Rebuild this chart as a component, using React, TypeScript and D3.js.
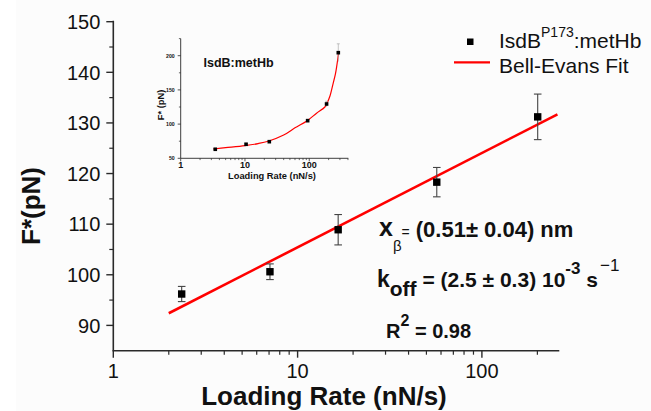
import React from "react";
import * as d3 from "d3";

// Main chart data
const mainRate = [2.35, 7.08, 16.6, 56.9, 200.8];
const mainForce = [96.2, 100.6, 108.9, 118.3, 131.2];
const mainErr = [1.5, 1.55, 3.0, 2.9, 4.5];
const fitRate = [2.0, 257];
const fitForce = [92.4, 131.7];
const yTicks = [90, 100, 110, 120, 130, 140, 150];
const xTicks = [1, 10, 100];

// Inset data
const insetRate = [3.45, 10.4, 23.9, 94.4, 186, 283];
const insetForce = [63.2, 70.5, 74.3, 105, 129.4, 204.4];
const insetErr = [1.2, 1.5, 1.5, 2, 4, 13];
const insetFitRate = [3.2, 5, 10, 16, 23, 40, 60, 93, 130, 175, 190, 210, 236, 255, 267, 287];
const insetFitForce = [63.6, 65.5, 68.5, 71.5, 75, 84, 94.5, 105, 116, 125, 131, 141, 160, 173, 184, 205];
const insetYTicks = [50, 100, 150, 200];
const insetXTicks = [1, 10, 100];

const FONT = "'Liberation Sans', Arial, sans-serif";
const AX = "#2a2a2a";

function minorLog(domainMax: number) {
  const out: number[] = [];
  for (let dec = 1; dec <= domainMax; dec *= 10) {
    for (let k = 2; k <= 9; k++) {
      const v = dec * k;
      if (v <= domainMax) out.push(v);
    }
  }
  return out;
}

export default function App() {
  const x = d3.scaleLog().domain([1, 263]).range([113.3, 559.3]);
  const y = d3.scaleLinear().domain([85, 150]).range([350.7, 21.7]);
  const ix = d3.scaleLog().domain([1, 405]).range([180.7, 348.3]);
  const iy = d3.scaleLinear().domain([50, 225]).range([158.3, 38.6]);

  const fitLine = d3
    .line<number>()
    .x((_, i) => x(fitRate[i]))
    .y((d) => y(d));
  const insetLine = d3
    .line<number>()
    .x((_, i) => ix(insetFitRate[i]))
    .y((d) => iy(d))
    .curve(d3.curveCatmullRom.alpha(0.5));

  const yMinor = d3.range(95, 150, 10);
  const xMinor = minorLog(263);
  const iyMinor = [75, 125, 175, 225];
  const ixMinor = minorLog(405);

  const x0 = x.range()[0];
  const yb = y.range()[0];
  const ix0 = ix.range()[0];
  const iyb = iy.range()[0];

  return (
    <div style={{ position: "fixed", left: 0, top: 0 }}>
      <svg width={651} height={411} style={{ display: "block", background: "#fff" }} fontFamily={FONT}>
        <rect x={16} y={0} width={635} height={411} fill="#fcfcfc" />
        {/* main axes */}
        <line x1={x0} x2={x0} y1={y.range()[1] - 1} y2={yb} stroke={AX} strokeWidth={1.6} />
        <line x1={x0 - 0.8} x2={x.range()[1]} y1={yb} y2={yb} stroke={AX} strokeWidth={1.6} />
        {yTicks.map((t) => (
          <g key={"yt" + t}>
            <line x1={x0 - 7} x2={x0} y1={y(t)} y2={y(t)} stroke={AX} strokeWidth={1.4} />
            <text x={x0 - 13} y={y(t)} dy="0.36em" textAnchor="end" fontSize={20} fill="#111">
              {t}
            </text>
          </g>
        ))}
        {yMinor.map((t) => (
          <line key={"ym" + t} x1={x0 - 4} x2={x0} y1={y(t)} y2={y(t)} stroke={AX} strokeWidth={1.2} />
        ))}
        {xTicks.map((t) => (
          <g key={"xt" + t}>
            <line x1={x(t)} x2={x(t)} y1={yb} y2={yb + 7} stroke={AX} strokeWidth={1.4} />
            <text x={x(t)} y={yb + 27.5} textAnchor="middle" fontSize={20} fill="#111">
              {t}
            </text>
          </g>
        ))}
        {xMinor.map((t) => (
          <line key={"xm" + t} x1={x(t)} x2={x(t)} y1={yb} y2={yb + 4} stroke={AX} strokeWidth={1.2} />
        ))}
        <text x={324} y={405} textAnchor="middle" fontSize={26} fontWeight="bold" fill="#111">
          Loading Rate (nN/s)
        </text>
        <text
          transform="translate(40,206) rotate(-90)"
          textAnchor="middle"
          fontSize={26}
          fontWeight="bold"
          fill="#111"
        >
          F*(pN)
        </text>

        {/* fit */}
        <path d={fitLine(fitForce) || ""} fill="none" stroke="#ff0000" strokeWidth={2.6} />

        {/* data */}
        {mainRate.map((r, i) => {
          const cx = x(r);
          const cy = y(mainForce[i]);
          const top = y(mainForce[i] + mainErr[i]);
          const bot = y(mainForce[i] - mainErr[i]);
          return (
            <g key={"p" + i}>
              <line x1={cx} x2={cx} y1={top} y2={bot} stroke="#444" strokeWidth={1.1} />
              <line x1={cx - 3.8} x2={cx + 3.8} y1={top} y2={top} stroke="#444" strokeWidth={1.1} />
              <line x1={cx - 3.8} x2={cx + 3.8} y1={bot} y2={bot} stroke="#444" strokeWidth={1.1} />
              <rect x={cx - 3.7} y={cy - 3.7} width={7.4} height={7.4} fill="#000" />
            </g>
          );
        })}

        {/* legend */}
        <rect x={467} y={38.5} width={6.5} height={6.5} fill="#000" />
        <text x={499} y={48.3} fontSize={21} fill="#111">
          IsdB
          <tspan fontSize={14} dy={-11}>P173</tspan>
          <tspan dy={11}>:metHb</tspan>
        </text>
        <line x1={454} x2={490} y1={62.3} y2={62.3} stroke="#ff0000" strokeWidth={2.2} />
        <text x={499} y={73.3} fontSize={21} fill="#111">
          Bell-Evans Fit
        </text>

        {/* annotations */}
        <text x={379} y={236} fontWeight="bold" fill="#111">
          <tspan fontSize={25}>x</tspan>
          <tspan fontSize={15} fontWeight="normal" dy={15}>β</tspan>
          <tspan fontSize={14} fontWeight="normal" dy={-14} dx={0}>=</tspan>
          <tspan fontSize={22} dx={6}>(0.51± 0.04) nm</tspan>
        </text>
        <text x={377} y={287} fontWeight="bold" fill="#111" fontSize={21}>
          <tspan fontSize={23}>k</tspan>
          <tspan dy={9}>off</tspan>
          <tspan dy={-9}> = (2.5 ± 0.3) 10</tspan>
          <tspan fontSize={17} dy={-13}>-3</tspan>
          <tspan dy={13}> s</tspan>
          <tspan fontSize={17} fontWeight="normal" dy={-16} dx={2}>−1</tspan>
        </text>
        <text x={386} y={338.3} fontWeight="bold" fill="#111" fontSize={20}>
          R<tspan fontSize={16} dy={-12}>2</tspan>
          <tspan dy={12}> = 0.98</tspan>
        </text>

        {/* inset axes */}
        <line x1={ix0} x2={ix0} y1={iy.range()[1]} y2={iyb} stroke={AX} strokeWidth={0.9} />
        <line x1={ix0} x2={ix.range()[1]} y1={iyb} y2={iyb} stroke={AX} strokeWidth={0.9} />
        {insetYTicks.map((t) => (
          <g key={"iyt" + t}>
            <line x1={ix0 - 3} x2={ix0} y1={iy(t)} y2={iy(t)} stroke={AX} strokeWidth={0.8} />
            <text x={ix0 - 6} y={iy(t)} dy="0.36em" textAnchor="end" fontSize={5.2} fontWeight="bold" fill="#111">
              {t}
            </text>
          </g>
        ))}
        {iyMinor.map((t) => (
          <line key={"iym" + t} x1={ix0 - 1.8} x2={ix0} y1={iy(t)} y2={iy(t)} stroke={AX} strokeWidth={0.7} />
        ))}
        {insetXTicks.map((t) => (
          <g key={"ixt" + t}>
            <line x1={ix(t)} x2={ix(t)} y1={iyb} y2={iyb + 3} stroke={AX} strokeWidth={0.8} />
            <text x={ix(t)} y={167.5} textAnchor="middle" fontSize={9} fontWeight="bold" fill="#111">
              {t}
            </text>
          </g>
        ))}
        {ixMinor.map((t) => (
          <line key={"ixm" + t} x1={ix(t)} x2={ix(t)} y1={iyb} y2={iyb + 1.8} stroke={AX} strokeWidth={0.7} />
        ))}
        <text x={272} y={179} textAnchor="middle" fontSize={9.3} fontWeight="bold" fill="#111">
          Loading Rate (nN/s)
        </text>
        <text
          transform="translate(164,105) rotate(-90)"
          textAnchor="middle"
          fontSize={9.3}
          fontWeight="bold"
          fill="#111"
        >
          F* (pN)
        </text>
        <text x={203.5} y={67.3} fontSize={12.5} fontWeight="bold" fill="#111">
          IsdB:metHb
        </text>
        <path d={insetLine(insetFitForce) || ""} fill="none" stroke="#ff0000" strokeWidth={1.2} />
        {insetRate.map((r, i) => {
          const cx = ix(r);
          const cy = iy(insetForce[i]);
          const top = iy(insetForce[i] + insetErr[i]);
          const bot = iy(insetForce[i] - insetErr[i]);
          return (
            <g key={"ip" + i}>
              <line x1={cx} x2={cx} y1={top} y2={bot} stroke="#aaa" strokeWidth={0.7} />
              <line x1={cx - 1.5} x2={cx + 1.5} y1={top} y2={top} stroke="#aaa" strokeWidth={0.7} />
              <rect x={cx - 1.8} y={cy - 1.8} width={3.6} height={3.6} fill="#000" />
            </g>
          );
        })}
      </svg>
    </div>
  );
}
